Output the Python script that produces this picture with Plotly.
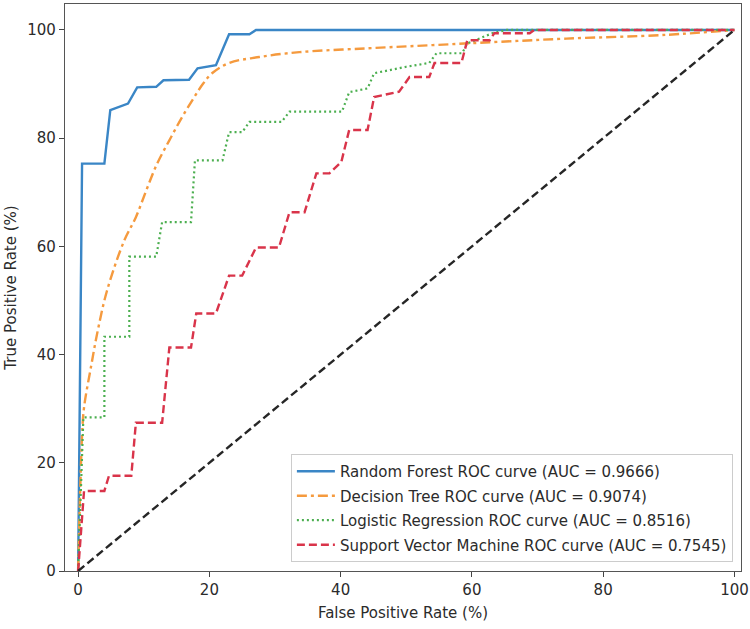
import plotly.graph_objects as go

# ---- data (percent) ----
rf_fpr = [0, 0.6, 4.0, 4.9, 7.6, 9.0, 11.9, 13.0, 16.9, 18.2, 21.0, 23.0, 26.1, 27.1, 100]
rf_tpr = [0, 75.3, 75.3, 85.2, 86.4, 89.4, 89.5, 90.7, 90.8, 92.9, 93.5, 99.2, 99.2, 100, 100]

dt_fpr = [0, 0.6, 0.9, 2.0, 3.0, 4.4, 7.0, 8.8, 10.4, 12.0, 13.9, 15.8, 17.7, 19.0, 20.4, 23.0, 27.6, 33.7, 44.0, 54.0, 64.0, 74.4, 89.6, 100]
dt_tpr = [0, 25.0, 30.2, 38.0, 44.5, 51.8, 61.0, 65.4, 70.4, 75.2, 79.6, 83.8, 87.6, 90.0, 92.0, 93.9, 95.0, 95.9, 96.6, 97.2, 97.8, 98.4, 99.1, 100]

lr_fpr = [0, 0.8, 4.0, 4.0, 7.8, 7.8, 11.9, 12.8, 17.2, 17.8, 22.0, 23.0, 25.0, 26.1, 31.0, 32.2, 40.2, 41.3, 44.1, 45.1, 50.0, 53.5, 54.6, 58.5, 59.3, 63.1, 65.2, 100]
lr_tpr = [0, 28.4, 28.4, 43.3, 43.3, 58.1, 58.1, 64.5, 64.5, 75.9, 75.9, 81.1, 81.1, 83.0, 83.0, 84.9, 84.9, 88.5, 89.2, 92.0, 93.2, 93.9, 95.7, 95.7, 97.5, 99.4, 100, 100]

svm_fpr = [0, 0.9, 4.0, 4.7, 8.1, 8.8, 12.8, 13.9, 17.2, 18.0, 21.0, 23.0, 25.0, 27.1, 30.6, 32.2, 34.5, 36.3, 38.3, 40.1, 41.3, 44.1, 45.1, 48.9, 50.5, 53.5, 54.3, 58.4, 59.3, 62.7, 63.4, 68.8, 69.5, 100]
svm_tpr = [0, 14.8, 14.8, 17.6, 17.6, 27.4, 27.4, 41.3, 41.3, 47.6, 47.6, 54.6, 54.6, 59.8, 59.8, 66.3, 66.3, 73.5, 73.5, 75.6, 81.5, 81.5, 87.6, 88.6, 91.3, 91.3, 93.9, 93.9, 98.1, 98.1, 99.4, 99.4, 100, 100]

diag = [0, 100]

names = [
    "Random Forest ROC curve (AUC = 0.9666)",
    "Decision Tree ROC curve (AUC = 0.9074)",
    "Logistic Regression ROC curve (AUC = 0.8516)",
    "Support Vector Machine ROC curve (AUC = 0.7545)",
]

x_ticks = [0, 20, 40, 60, 80, 100]
y_ticks = [0, 20, 40, 60, 80, 100]

FONT = "DejaVu Sans"
TXT = "#2b2b2b"

fig = go.Figure()
fig.add_trace(go.Scatter(x=rf_fpr, y=rf_tpr, mode="lines", name=names[0], legendgroup="a",
                         line=dict(color="#3a86c6", width=2.4)))
fig.add_trace(go.Scatter(x=dt_fpr, y=dt_tpr, mode="lines", name=names[1], legendgroup="b",
                         line=dict(color="#f59a3e", width=2.4, dash="10px,4px,3px,4px", shape="spline")))
fig.add_trace(go.Scatter(x=lr_fpr, y=lr_tpr, mode="lines", name=names[2], legendgroup="c",
                         line=dict(color="#4caf50", width=2.2, dash="2px,3px")))
fig.add_trace(go.Scatter(x=svm_fpr, y=svm_tpr, mode="lines", name=names[3], legendgroup="d",
                         line=dict(color="#d9344a", width=2.4, dash="8px,4px")))
fig.add_trace(go.Scatter(x=diag, y=diag, mode="lines", showlegend=False,
                         line=dict(color="#262626", width=2.4, dash="8px,4px")))

axis_common = dict(
    showline=True, linecolor="#555555", linewidth=1.3, mirror=True,
    showgrid=False, zeroline=False, automargin=False,
    ticks="outside", ticklen=5, tickwidth=1.2, tickcolor="#444444",
    tickfont=dict(family=FONT, size=15, color=TXT),
)

fig.update_layout(
    width=750, height=629,
    margin=dict(l=65, r=9, t=4, b=58),
    paper_bgcolor="white", plot_bgcolor="white",
    font=dict(family=FONT, size=15, color=TXT),
    xaxis=dict(range=[-2, 101], tickvals=x_ticks, **axis_common,
               title=dict(text="False Positive Rate (%)", font=dict(family=FONT, size=15, color=TXT), standoff=9)),
    yaxis=dict(range=[0, 104.8], tickvals=y_ticks, **axis_common,
               title=dict(text="True Positive Rate (%)", font=dict(family=FONT, size=15, color=TXT), standoff=6)),
    legend=dict(x=0.988, y=0.016, xanchor="right", yanchor="bottom",
                bgcolor="white", bordercolor="#cccccc", borderwidth=1,
                font=dict(family=FONT, size=15, color=TXT),
                traceorder="grouped", tracegroupgap=2, itemwidth=38),
    showlegend=True,
)

fig.write_html("out.html", config={"displayModeBar": False},
               post_script="document.body.style.margin='0px';document.body.style.overflow='hidden';")
